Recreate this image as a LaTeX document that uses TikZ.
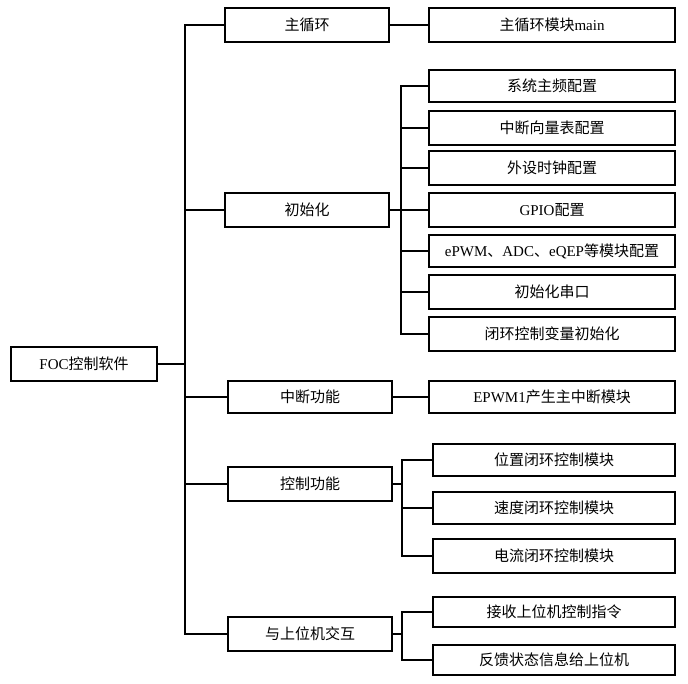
\documentclass[tikz,border=0pt]{standalone}
\usepackage{fontspec}
\setmainfont{Liberation Serif}
\newfontfamily\cjk{Noto Sans CJK SC}
\newcommand{\zh}[1]{{\cjk #1}}
\begin{document}
\begin{tikzpicture}[x=1pt,y=-1pt,
  box/.style={draw, line width=2pt, inner sep=0pt, font=\fontsize{15}{17}\selectfont},
  wA/.style={box, minimum width=146pt, minimum height=34pt},
  wB/.style={box, minimum width=164pt, minimum height=34pt},
  wC/.style={box, minimum width=246pt, minimum height=34pt},
  wD/.style={box, minimum width=242pt, minimum height=32pt},
  wE/.style={box, minimum width=242pt, minimum height=30pt},
  ln/.style={line width=2pt}]
\useasboundingbox (0,0) rectangle (688,683);
% root
\node[wA] (root) at (84,364) {FOC\zh{控制软件}};
% level 1
\node[wB] (a) at (307,25) {\zh{主循环}};
\node[wB] (b) at (307,210) {\zh{初始化}};
\node[wB, minimum height=32pt] (c) at (310,397) {\zh{中断功能}};
\node[wB] (d) at (310,484) {\zh{控制功能}};
\node[wB] (e) at (310,634) {\zh{与上位机交互}};
% level 2
\node[wC] (a1) at (552,25) {\zh{主循环模块}main};
\node[wC, minimum height=32pt] (b1) at (552,86) {\zh{系统主频配置}};
\node[wC] (b2) at (552,128) {\zh{中断向量表配置}};
\node[wC] (b3) at (552,168) {\zh{外设时钟配置}};
\node[wC] (b4) at (552,210) {GPIO\zh{配置}};
\node[wC, minimum height=32pt] (b5) at (552,251) {ePWM\zh{、}ADC\zh{、}eQEP\zh{等模块配置}};
\node[wC] (b6) at (552,292) {\zh{初始化串口}};
\node[wC] (b7) at (552,334) {\zh{闭环控制变量初始化}};
\node[wC, minimum height=32pt] (c1) at (552,397) {EPWM1\zh{产生主中断模块}};
\node[wD] (d1) at (554,460) {\zh{位置闭环控制模块}};
\node[wD] (d2) at (554,508) {\zh{速度闭环控制模块}};
\node[wD, minimum height=34pt] (d3) at (554,556) {\zh{电流闭环控制模块}};
\node[wE] (e1) at (554,612) {\zh{接收上位机控制指令}};
\node[wE] (e2) at (554,660) {\zh{反馈状态信息给上位机}};
% trunk coordinates
\coordinate (t) at (185,0);
\coordinate (s) at (401,0);
\coordinate (u) at (402,0);
% main trunk
\draw[ln] (root.east) -- (root.east -| t);
\draw[ln] (a.west) -- (a.west -| t) -- (e.west -| t) -- (e.west);
\foreach \n in {b,c,d} \draw[ln] (\n.west -| t) -- (\n.west);
% main loop
\draw[ln] (a.east) -- (a1.west);
% init
\draw[ln] (b.east) -- (b.east -| s);
\draw[ln] (b1.west) -- (b1.west -| s) -- (b7.west -| s) -- (b7.west);
\foreach \n in {b2,b3,b4,b5,b6} \draw[ln] (\n.west -| s) -- (\n.west);
% interrupt
\draw[ln] (c.east) -- (c1.west);
% control
\draw[ln] (d.east) -- (d.east -| u);
\draw[ln] (d1.west) -- (d1.west -| u) -- (d3.west -| u) -- (d3.west);
\draw[ln] (d2.west -| u) -- (d2.west);
% host
\draw[ln] (e.east) -- (e.east -| u);
\draw[ln] (e1.west) -- (e1.west -| u) -- (e2.west -| u) -- (e2.west);
\end{tikzpicture}
\end{document}
